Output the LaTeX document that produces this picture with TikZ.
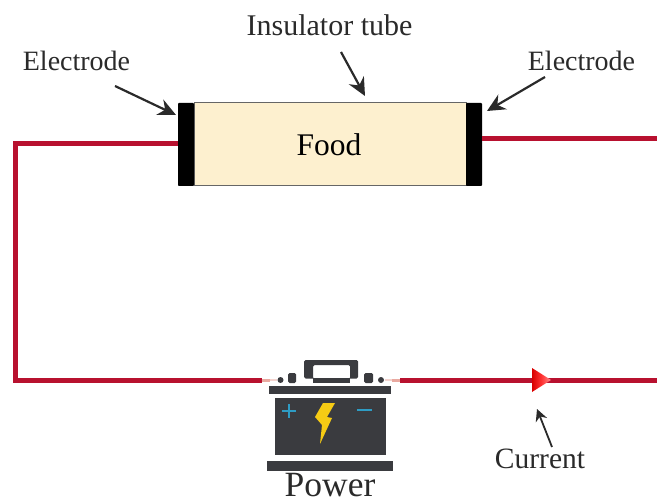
\documentclass[tikz,border=0pt]{standalone}
\usepackage{fontspec}
\setmainfont{Liberation Serif}
\usetikzlibrary{arrows.meta,calc}
\definecolor{wirered}{HTML}{B8112F}
\definecolor{wirepink}{HTML}{E9A9A0}
\definecolor{foodfill}{HTML}{FDF0CF}
\definecolor{batgrey}{HTML}{3A3B3F}
\definecolor{inkgrey}{HTML}{2A2A2A}
\definecolor{plusblue}{HTML}{2E9CC4}
\definecolor{boltyellow}{HTML}{F6CB14}
\tikzset{
  wire/.style={draw=wirered,line width=5pt,line join=miter},
  wireend/.style={draw=wirepink,line width=3pt},
  electrode/.style={fill=black,draw=none,minimum width=16pt,minimum height=83pt,inner sep=0pt,rounded corners=0.8pt},
  tube/.style={fill=foodfill,draw=gray!80!black,line width=1pt,minimum width=272pt,minimum height=83pt,inner sep=0pt},
  lab/.style={text=inkgrey,inner sep=0pt,anchor=base},
  callout/.style={draw=inkgrey,line width=2.2pt,-{Stealth[length=18pt,width=17pt,inset=6pt]}},
  batpart/.style={fill=batgrey,draw=none,inner sep=0pt},
}
\begin{document}
\begin{tikzpicture}[x=1pt,y=-1pt]
\useasboundingbox (0,0) rectangle (657,500);
% tube and electrodes
\node[tube] (tube) at (330,144.5) {\hspace*{-2pt}\fontsize{31.5}{34}\selectfont Food};
\node[electrode] (elecL) at (186,144.5) {};
\node[electrode] (elecR) at (474,144.5) {};
% battery
\coordinate (batL) at (262,380);
\coordinate (batR) at (400,380);
\coordinate (wireTL) at (15,144);
\coordinate (wireBL) at (15,380);
\coordinate (wireTR) at (657,138.5);
\coordinate (wireBR) at (657,380);
% wires
\draw[wire] (elecL.west |- wireTL) -- (wireTL) -- (wireBL) -- (batL);
\draw[wire] (elecR.east |- wireTR) -- (wireTR);
\draw[wire] (batR) -- (wireBR);
\draw[wireend] (batL) -- ++(8,0);
\draw[wireend] (batR) -- ++(-8,0);
\draw[draw=wirepink!50,line width=1.2pt] (270,380) -- (277,380);
\draw[draw=wirepink!50,line width=1.2pt] (392,380) -- (385,380);
% current arrowhead
\path[left color=red!85!black,right color=red!45!white,middle color=red!80] (532,368) -- (551,380) -- (532,392) -- cycle;
% battery body
\fill[batgrey,rounded corners=1.5pt,even odd rule] (304,360) rectangle (358,378.5) (313,365) rectangle (350,379);
\fill[batgrey] (313,378) rectangle (350,383);
\fill[batgrey,rounded corners=1.5pt] (288,373) rectangle (296,383);
\fill[batgrey,rounded corners=1.5pt] (364,373) rectangle (373,383);
\fill[batgrey] (280.5,380) circle (3);
\fill[batgrey] (381,380) circle (3);
\node[batpart,minimum width=122pt,minimum height=8.5pt] (batTop) at (330,390) {};
\node[batpart,minimum width=111pt,minimum height=57pt] (batBody) at (330.5,426.5) {};
\node[batpart,minimum width=126pt,minimum height=10pt] (batBase) at (330,466) {};
\draw[plusblue,line width=2pt] (282,411) -- (296,411) (289,404) -- (289,418);
\draw[plusblue,line width=2pt] (357,410) -- (372,410);
\fill[boltyellow] (323,403) -- (335,403) -- (327,417) -- (332,418) -- (320,444) -- (322,425) -- (315,417) -- cycle;
% labels
\node[lab] (labElecL) at (76.5,71) {\fontsize{28}{30}\selectfont Electrode};
\node[lab] (labElecR) at (581.5,71) {\fontsize{28}{30}\selectfont Electrode};
\node[lab] (labTube) at (329.5,35.5) {\fontsize{30}{32}\selectfont Insulator tube};
\node[lab] (labCurrent) at (540,468) {\fontsize{29.5}{32}\selectfont Current};
\node[lab] (labPower) at (330,496) {\fontsize{35.5}{38}\selectfont Power};
% call-outs
\coordinate (tailL) at (115,86);
\coordinate (tipL) at (176,115);
\coordinate (tailR) at (545,77);
\coordinate (tipR) at (487,111);
\coordinate (tailT) at (341,52);
\coordinate (tipT) at (365,96);
\coordinate (tailC) at (552,447);
\coordinate (tipC) at (537,409);
\draw[callout] (tailL) -- (tipL);
\draw[callout] (tailR) -- (tipR);
\draw[callout] (tailT) -- (tipT);
\draw[callout,line width=1.8pt,-{Stealth[length=12pt,width=12pt,inset=4pt]}] (tailC) -- (tipC);
\end{tikzpicture}
\end{document}
